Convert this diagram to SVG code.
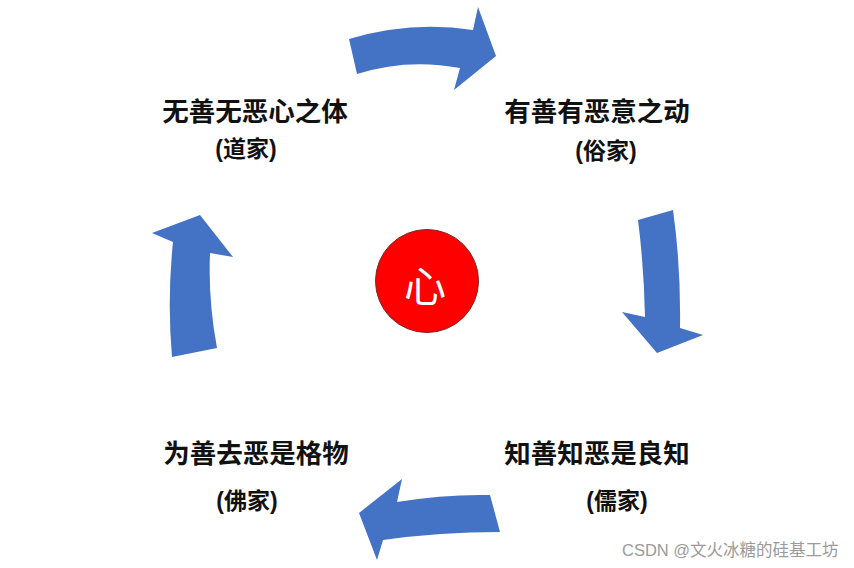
<svg xmlns="http://www.w3.org/2000/svg" width="854" height="568" viewBox="0 0 854 568">
<style>
.arrow{fill:#4472C4;}
.t{font-family:"Liberation Sans","Noto Sans CJK SC",sans-serif;font-weight:bold;fill:#111;text-anchor:middle;}
.big{font-size:26.5px;}
.sub{font-size:23px;}
.wm{font-family:"Liberation Sans","Noto Sans CJK SC",sans-serif;font-size:16.5px;fill:#9a9a9a;}
</style>
<rect width="854" height="568" fill="#ffffff"/>
<g id="connectors">
<path class="arrow" d="M349,39 Q411,20.5 473,30 L478,7 L496,56 L454,90 L460,68 Q407,58 357,74 Z"/>
<path class="arrow" d="M638,220 L673,210 Q681,267 680,328 L703,335 L657,353 L622,312 L645,317 Q644,267 638,220 Z"/>
<path class="arrow" d="M490,495 L500,532 Q440,532 383,540 L377,560 L359,513 L402,479 L397,502 Q445,494 490,495 Z"/>
<path class="arrow" d="M172,357 Q167,300 173,242 L152,233 L200,215 L233,257 L210,253 Q208,300 217,348 Z"/>
</g>
<g id="center">
<circle cx="427" cy="281" r="51.5" fill="#ff0000" stroke="#7a2a2a" stroke-width="1"/>
<text x="425" y="302" font-family="Noto Sans CJK SC,sans-serif" font-size="42" font-weight="normal" fill="#ffffff" text-anchor="middle">心</text>
</g>
<g id="node-dao">
<text class="t big" x="255" y="121">无善无恶心之体</text>
<text class="t sub" x="246" y="157">(道家)</text>
</g>
<g id="node-su">
<text class="t big" x="597" y="121">有善有恶意之动</text>
<text class="t sub" x="606" y="159">(俗家)</text>
</g>
<g id="node-ru">
<text class="t big" x="597" y="463">知善知恶是良知</text>
<text class="t sub" x="617" y="509">(儒家)</text>
</g>
<g id="node-fo">
<text class="t big" x="256" y="463">为善去恶是格物</text>
<text class="t sub" x="247" y="509">(佛家)</text>
</g>
<text class="wm" x="622" y="556">CSDN @文火冰糖的硅基工坊</text>
</svg>
